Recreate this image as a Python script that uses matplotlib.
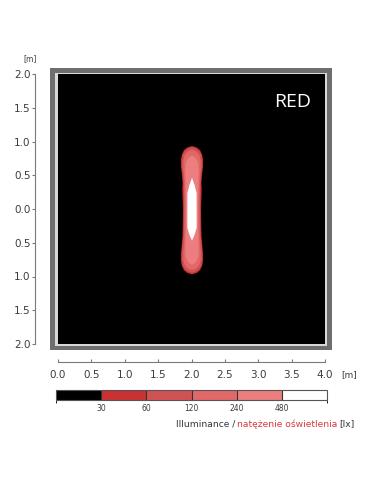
#!/usr/bin/env python3
"""Illuminance map of a single RED luminaire seen from above, with a stepped lux legend."""

import matplotlib

matplotlib.use("Agg")
import matplotlib.pyplot as plt
from matplotlib.colors import BoundaryNorm, ListedColormap
from matplotlib.patches import Rectangle
import matplotlib.cm as cm

W, H = 381, 492

# legend classes (lx) and their colours
LUX_BOUNDS = [0, 30, 60, 120, 240, 480, 960]
LUX_LABELS = ["30", "60", "120", "240", "480"]
LUX_COLORS = ["#000000", "#c83232", "#d05252", "#e06868", "#ec7e80", "#ffffff"]

X_TICKS = [0.0, 0.5, 1.0, 1.5, 2.0, 2.5, 3.0, 3.5, 4.0]
Y_TICKS = [-2.0, -1.5, -1.0, -0.5, 0.0, 0.5, 1.0, 1.5, 2.0]

LUMINAIRE_X = 2.0

# iso-lux outlines: position along the strip [m] and half width [m]
y30 = [0.94, 0.92, 0.88, 0.82, 0.74, 0.64, 0.52, 0.38, 0.30, 0.0, -0.30, -0.40, -0.54, -0.66, -0.76, -0.84, -0.90, -0.94, -0.96]
hw30 = [0.0, 0.07, 0.12, 0.15, 0.165, 0.165, 0.15, 0.14, 0.145, 0.135, 0.14, 0.142, 0.155, 0.165, 0.165, 0.15, 0.12, 0.07, 0.0]

y60 = [0.92, 0.90, 0.86, 0.80, 0.72, 0.62, 0.50, 0.30, 0.0, -0.30, -0.52, -0.64, -0.74, -0.82, -0.88, -0.92, -0.94]
hw60 = [0.0, 0.06, 0.11, 0.14, 0.15, 0.15, 0.135, 0.125, 0.12, 0.125, 0.14, 0.15, 0.15, 0.14, 0.11, 0.06, 0.0]

y120 = [0.88, 0.86, 0.80, 0.72, 0.60, 0.45, 0.0, -0.45, -0.62, -0.74, -0.82, -0.88, -0.90]
hw120 = [0.0, 0.06, 0.11, 0.13, 0.13, 0.115, 0.11, 0.115, 0.13, 0.13, 0.11, 0.06, 0.0]

y240 = [0.80, 0.76, 0.68, 0.55, 0.40, 0.0, -0.40, -0.57, -0.70, -0.78, -0.82]
hw240 = [0.0, 0.06, 0.095, 0.10, 0.095, 0.09, 0.095, 0.10, 0.095, 0.06, 0.0]

y480 = [0.47, 0.36, 0.24, 0.0, -0.27, -0.37, -0.46]
hw480 = [0.0, 0.04, 0.07, 0.07, 0.07, 0.04, 0.0]

ISO_LINES = [(y30, hw30, 1), (y60, hw60, 2), (y120, hw120, 3), (y240, hw240, 4), (y480, hw480, 5)]

AXIS_GREY = "#7a7a7a"
TEXT_GREY = "#3c3c3c"


def px_box(x0, y0, x1, y1):
    """pixel box (top-left origin) -> figure fraction rect"""
    return [x0 / W, (H - y1) / H, (x1 - x0) / W, (y1 - y0) / H]


def pt(px):
    return px * 72.0 / 100.0


fig = plt.figure(figsize=(W / 100, H / 100), dpi=100)

# grey frame around the map
for x0, y0, x1, y1, col, z in [(50, 68, 332, 350, "#6e6e6e", -3), (55, 73, 327, 346, "#d8d8d8", -2)]:
    r = px_box(x0, y0, x1, y1)
    fig.add_artist(Rectangle((r[0], r[1]), r[2], r[3], transform=fig.transFigure,
                             facecolor=col, edgecolor="none", zorder=z))

ax = fig.add_axes(px_box(58, 74, 325, 344))
ax.set_facecolor("black")
ax.set_xlim(0, 4)
ax.set_ylim(-2, 2)

for ys, hws, idx in ISO_LINES:
    left = [LUMINAIRE_X - w for w in hws]
    right = [LUMINAIRE_X + w for w in hws]
    ax.fill_betweenx(ys, left, right, color=LUX_COLORS[idx], linewidth=0)

ax.text(0.809, 0.897, "RED", transform=ax.transAxes, color="white",
        fontsize=14, family="Open Sans", ha="left", va="center")

for side in ("top", "right"):
    ax.spines[side].set_visible(False)
ax.spines["left"].set_position(("outward", pt(23)))
ax.spines["bottom"].set_position(("outward", pt(18)))
for side in ("left", "bottom"):
    ax.spines[side].set_color(AXIS_GREY)
    ax.spines[side].set_linewidth(0.8)

ax.set_xticks(X_TICKS)
ax.set_xticklabels([f"{v:.1f}" for v in X_TICKS])
ax.set_yticks(Y_TICKS)
ax.set_yticklabels([f"{abs(v):.1f}" for v in Y_TICKS])
ax.tick_params(axis="x", direction="in", length=pt(3), width=0.8, color=AXIS_GREY,
               labelsize=7.5, labelcolor=TEXT_GREY, pad=pt(8))
ax.tick_params(axis="y", direction="out", length=pt(3), width=0.8, color=AXIS_GREY,
               labelsize=7.5, labelcolor=TEXT_GREY, pad=1)

fig.text(30 / W, (H - 59) / H, "[m]", fontsize=5.5, color=TEXT_GREY, ha="center", va="center")
fig.text(341 / W, (H - 375) / H, "[m]", fontsize=6.5, color=TEXT_GREY, ha="left", va="center")

# stepped legend bar
cax = fig.add_axes(px_box(56, 390, 327, 400))
cmap = ListedColormap(LUX_COLORS)
norm = BoundaryNorm(LUX_BOUNDS, cmap.N)
cb = fig.colorbar(cm.ScalarMappable(norm=norm, cmap=cmap), cax=cax, orientation="horizontal",
                  spacing="uniform", drawedges=True, ticks=[int(v) for v in LUX_LABELS])
cb.set_ticklabels(LUX_LABELS)
cb.outline.set_edgecolor("#555555")
cb.outline.set_linewidth(0.8)
cb.dividers.set_color("#333333")
cb.dividers.set_linewidth(0.8)
cax.tick_params(length=0, labelsize=5.5, labelcolor=TEXT_GREY, pad=pt(4))

# caption, right aligned, built from right to left
fig.canvas.draw()
renderer = fig.canvas.get_renderer()
cap_y = (H - 424) / H
x_right = 355 / W
for txt, col in [("[lx]", "#333333"), ("natężenie oświetlenia", "#d9383a"), ("Illuminance /", "#333333")]:
    t = fig.text(x_right, cap_y, txt, fontsize=6.6, color=col, ha="right", va="center")
    bb = t.get_window_extent(renderer)
    x_right = (bb.x0 - 2) / W

fig.savefig("out.png", dpi=100)
